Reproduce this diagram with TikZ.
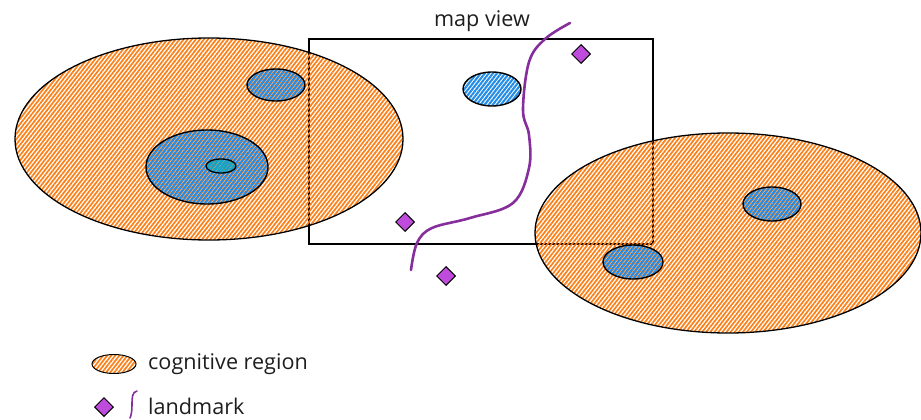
\documentclass[tikz,border=0pt]{standalone}
\usepackage{fontspec}
\setmainfont{Open Sans}
\usetikzlibrary{shapes.geometric,patterns.meta}
\definecolor{orng}{HTML}{FD7E14}
\definecolor{blu}{HTML}{228BE6}
\definecolor{teal2}{HTML}{15AABF}
\definecolor{grapefill}{HTML}{BE4BDB}
\definecolor{grapeline}{HTML}{862E9C}
\definecolor{ink}{HTML}{1E1E1E}
\tikzset{
  region/.style={ellipse, draw=black, line width=1.3pt, inner sep=0pt, outer sep=0pt,
    pattern={Lines[angle=52,distance=3.2pt,line width=1.7pt]}, pattern color=orng},
  spot/.style={ellipse, draw=black, line width=1.4pt, inner sep=0pt, outer sep=0pt,
    pattern={Lines[angle=52,distance=3.2pt,yshift=1.6pt,line width=2.1pt]}, pattern color=blu},
  core/.style={ellipse, draw=black, line width=1.3pt, inner sep=0pt, outer sep=0pt,
    pattern={Lines[angle=52,distance=1.8pt,line width=1.3pt]}, pattern color=teal2},
  landmk/.style={diamond, draw=black, line width=1pt, fill=grapefill, inner sep=0pt,
    minimum width=19pt, minimum height=19pt},
  road/.style={draw=grapeline, line width=2.6pt, line cap=round},
  lbl/.style={text=ink, font=\fontsize{21.6}{24}\selectfont, inner sep=0pt},
  frame/.style={draw=black, line width=1.1pt}
}
\begin{document}
\begin{tikzpicture}[x=1pt,y=-1pt]
\useasboundingbox (0,0) rectangle (921,420);
% map view frame
\coordinate (fa) at (309,39);
\coordinate (fb) at (653,244);
\draw[frame] (fa) rectangle (fb);
\node[lbl] (mvlabel) at (482,21) {map view};
% left region
\node[region, minimum width=388pt, minimum height=202pt] (L) at (209,139) {};
\node[spot, minimum width=58pt, minimum height=32pt] (L1) at (276,85) {};
\node[spot, minimum width=122pt, minimum height=74pt] (L2) at (207,167) {};
\node[core, minimum width=30pt, minimum height=14pt] (L3) at (221,166) {};
% right region
\node[region, minimum width=386pt, minimum height=200pt] (R) at (728,233) {};
\node[spot, minimum width=58pt, minimum height=34pt] (R1) at (772,204) {};
\node[spot, minimum width=60pt, minimum height=34pt] (R2) at (633,262) {};
% free spot in map view
\node[spot, minimum width=58pt, minimum height=34pt] (M1) at (492,89) {};
% road
\draw[road] plot[smooth, tension=0.6] coordinates {(570,23) (545,39) (529,62) (523,110) (529,135) (529,168) (513,203) (470,218) (432,228) (417,243) (411,270)};
% landmarks
\node[landmk] (d1) at (581,54) {};
\node[landmk] (d2) at (405,222) {};
\node[landmk] (d3) at (446,276) {};
% legend
\node[region, line width=1pt, minimum width=44pt, minimum height=19pt] (lgR) at (114,364) {};
\node[lbl, anchor=west] (lgRt) at (148,364) {cognitive region};
\node[landmk] (lgD) at (104,407) {};
\coordinate (c1) at (137,391);
\coordinate (c2) at (130,418);
\draw[draw=grapeline, line width=1.6pt, line cap=round] (c1) .. controls (132,392) and (132,398) .. (132,405) .. controls (132,412) and (131,416) .. (c2);
\node[lbl, anchor=west] (lgDt) at (148,406) {landmark};
\end{tikzpicture}
\end{document}
